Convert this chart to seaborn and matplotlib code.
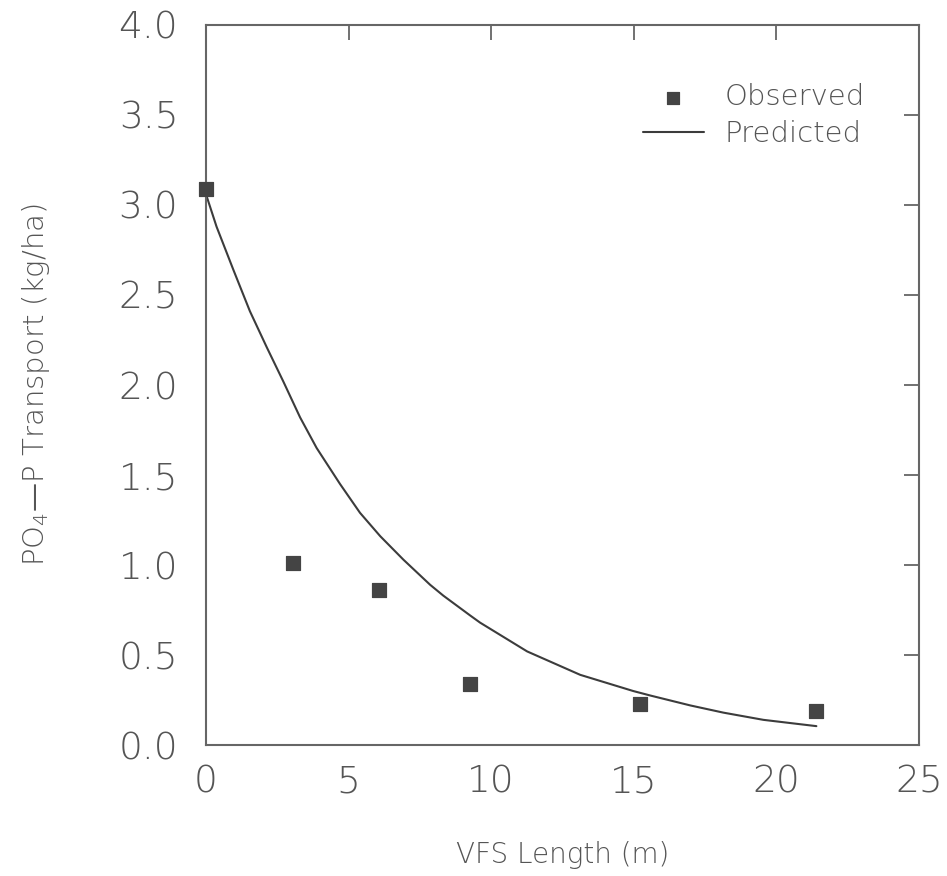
import pandas as pd
import matplotlib
matplotlib.use('Agg')
import matplotlib.pyplot as plt
import seaborn as sns

# observed points (VFS length m, PO4-P kg/ha)
obs_x = [0.0, 3.05, 6.07, 9.25, 15.2, 21.4]
obs_y = [3.09, 1.01, 0.86, 0.34, 0.23, 0.19]

# predicted curve
pred_x = [0.0, 0.37, 0.96, 1.54, 2.13, 2.71, 3.30, 3.88, 4.70, 5.40, 6.11, 6.92,
          7.86, 8.32, 9.26, 9.61, 11.26, 13.12, 14.98, 15.58, 16.98, 18.14,
          19.54, 20.6, 21.4]
pred_y = [3.06, 2.88, 2.64, 2.41, 2.21, 2.02, 1.82, 1.65, 1.45, 1.29, 1.16, 1.03,
          0.89, 0.83, 0.72, 0.68, 0.52, 0.39, 0.30, 0.275, 0.22, 0.18,
          0.14, 0.12, 0.105]

xticks = [0, 5, 10, 15, 20, 25]
yticks = [0.0, 0.5, 1.0, 1.5, 2.0, 2.5, 3.0, 3.5, 4.0]

obs = pd.DataFrame({'x': obs_x, 'y': obs_y})
pred = pd.DataFrame({'x': pred_x, 'y': pred_y})

sns.set_style('white')
plt.rcParams['font.family'] = ['DejaVu Sans']
plt.rcParams['mathtext.default'] = 'regular'

txt = '#555555'
fig = plt.figure(figsize=(9.47, 8.76), dpi=100)
ax = fig.add_axes([0.2175, 0.1495, 0.753, 0.822])

sns.lineplot(data=pred, x='x', y='y', sort=False, color='#3c3c3c', linewidth=1.5,
             label='Predicted', ax=ax)
sns.scatterplot(data=obs, x='x', y='y', marker='s', s=115, color='#444444',
                edgecolor='#444444', label='Observed', ax=ax, zorder=3, clip_on=False)

ax.set_xlim(0, 25)
ax.set_ylim(0, 4.0)
ax.set_xticks(xticks)
ax.set_yticks(yticks)
ax.set_xticklabels([str(t) for t in xticks], fontweight='light')
ax.set_yticklabels([f'{t:.1f}' for t in yticks], fontweight='light')
ax.tick_params(direction='in', length=11, width=1.3, color='#666666',
               top=True, right=True, labelsize=27, labelcolor=txt)
ax.tick_params(axis='y', pad=20)
ax.tick_params(axis='x', pad=14)
for s in ax.spines.values():
    s.set_color('#666666')
    s.set_linewidth(1.5)

ax.set_xlabel('VFS Length (m)', fontsize=20, color=txt, labelpad=30, fontweight='light')
ax.set_ylabel('PO$_4$—P Transport (kg/ha)', fontsize=21, color=txt, labelpad=48,
              fontweight='light')

h, l = ax.get_legend_handles_labels()
order = [l.index('Observed'), l.index('Predicted')]
ax.legend([h[i] for i in order], [l[i] for i in order], loc='upper right',
          bbox_to_anchor=(0.94, 0.935), borderaxespad=0, frameon=False,
          prop={'size': 21, 'weight': 'light'},
          labelcolor=txt, handlelength=2.1, handletextpad=0.7, labelspacing=0.3,
          markerscale=0.8)

fig.savefig('out.png', dpi=100)
